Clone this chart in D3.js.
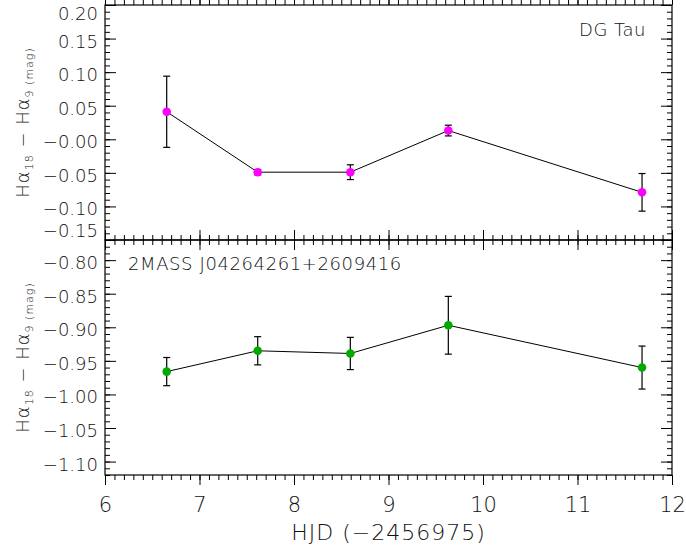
<!DOCTYPE html>
<html>
<head>
<meta charset="utf-8">
<script src="https://cdn.jsdelivr.net/npm/d3@7"></script>
<style>
  html, body { margin: 0; padding: 0; background: #fff; }
  svg { display: block; }
  text { font-family: "DejaVu Sans", "Liberation Sans", sans-serif; fill: #111; font-weight: 200; }
</style>
</head>
<body>
<svg id="chart" width="686" height="550"></svg>
<script>
// ---------- data ----------
const hjd = [6.653, 7.616, 8.596, 9.633, 11.683];
const dgTau = [0.041, -0.049, -0.049, 0.013, -0.079];
const dgTauErr = [0.053, 0.004, 0.011, 0.008, 0.028];
const twoMass = [-0.966, -0.935, -0.939, -0.897, -0.960];
const twoMassErr = [0.021, 0.021, 0.024, 0.043, 0.032];
const xTicks = [6, 7, 8, 9, 10, 11, 12];
const topYTicks = [0.20, 0.15, 0.10, 0.05, 0.00, -0.05, -0.10, -0.15];
const topYLabels = ["0.20", "0.15", "0.10", "0.05", "\u22120.00", "\u22120.05", "\u22120.10", "\u22120.15"];
const botYTicks = [-0.80, -0.85, -0.90, -0.95, -1.00, -1.05, -1.10];
const botYLabels = ["\u22120.80", "\u22120.85", "\u22120.90", "\u22120.95", "\u22121.00", "\u22121.05", "\u22121.10"];
const topName = "DG Tau";
const botName = "2MASS J04264261+2609416";
const xTitle = "HJD (\u22122456975)";

// ---------- layout ----------
const svg = d3.select("#chart");
const L = 105, R = 672;
const panels = [
  { top: 5, bottom: 240, domain: [-0.15, 0.20], vals: dgTau, errs: dgTauErr, color: "#ff00ff",
    ticks: topYTicks, labels: topYLabels, name: topName },
  { top: 240, bottom: 475, domain: [-1.12, -0.77], vals: twoMass, errs: twoMassErr, color: "#00aa00",
    ticks: botYTicks, labels: botYLabels, name: botName }
];

const x = d3.scaleLinear().domain([6, 12]).range([L, R]);
const xMinor = d3.range(6, 12.0001, 0.1).map(v => +v.toFixed(1));

panels.forEach((p, pi) => {
  const y = d3.scaleLinear().domain(p.domain).range([p.bottom, p.top]);
  const yMinor = d3.range(Math.ceil(p.domain[0] * 100 - 1e-6), Math.floor(p.domain[1] * 100 + 1e-6) + 1)
    .map(v => v / 100);
  const g = svg.append("g");

  // minor ticks
  const minorAxes = [
    [d3.axisLeft(y).tickValues(yMinor), `translate(${L},0)`, -5],
    [d3.axisRight(y).tickValues(yMinor), `translate(${R},0)`, -5],
    [d3.axisTop(x).tickValues(xMinor), `translate(0,${p.bottom})`, -5],
    [d3.axisBottom(x).tickValues(xMinor), `translate(0,${p.top})`, -5]
  ];
  minorAxes.forEach(([ax, tr, s]) => {
    const a = g.append("g").attr("transform", tr).call(ax.tickSize(s).tickFormat(""));
    a.select(".domain").remove();
    a.selectAll("line").attr("stroke", "#000");
  });

  // major ticks
  const yAxL = g.append("g").attr("transform", `translate(${L},0)`)
    .call(d3.axisLeft(y).tickValues(p.ticks).tickSize(-11).tickPadding(7)
      .tickFormat((d, i) => p.labels[i]));
  yAxL.select(".domain").remove();
  yAxL.selectAll("line").attr("stroke", "#000");
  yAxL.selectAll("text")
    .style("font-size", "18px").style("font-family", null)
    .attr("fill", "#111")
    .attr("dy", null)
    .attr("dominant-baseline", "central")
    .attr("y", d => {
      const yy = y(d) + 2;
      return Math.min(Math.max(yy, p.top + 8), p.bottom - 10) - y(d);
    });

  const yAxR = g.append("g").attr("transform", `translate(${R},0)`)
    .call(d3.axisRight(y).tickValues(p.ticks).tickSize(-11).tickFormat(""));
  yAxR.select(".domain").remove();
  yAxR.selectAll("line").attr("stroke", "#000");

  const xAxT = g.append("g").attr("transform", `translate(0,${p.top})`)
    .call(d3.axisBottom(x).tickValues(xTicks).tickSize(-10).tickFormat(""));
  xAxT.select(".domain").remove();
  xAxT.selectAll("line").attr("stroke", "#000");

  const xAxB = g.append("g").attr("transform", `translate(0,${p.bottom})`)
    .call(d3.axisTop(x).tickValues(xTicks).tickSize(-10).tickFormat(""));
  xAxB.select(".domain").remove();
  xAxB.selectAll("line").attr("stroke", "#000");

  // frame
  g.append("rect").attr("x", L).attr("y", p.top).attr("width", R - L).attr("height", p.bottom - p.top)
    .attr("fill", "none").attr("stroke", "#000").attr("stroke-width", 1.2);

  // data
  const pts = hjd.map((h, i) => ({ x: h, y: p.vals[i], e: p.errs[i] }));
  g.append("path").datum(pts)
    .attr("d", d3.line().x(d => x(d.x)).y(d => y(d.y)))
    .attr("fill", "none").attr("stroke", "#000").attr("stroke-width", 1);

  const eb = g.append("g").selectAll("g").data(pts).join("g");
  eb.append("line").attr("x1", d => x(d.x)).attr("x2", d => x(d.x))
    .attr("y1", d => y(d.y + d.e)).attr("y2", d => y(d.y - d.e))
    .attr("stroke", "#000").attr("stroke-width", 1.2);
  [1, -1].forEach(s => {
    eb.append("line").attr("x1", d => x(d.x) - 3.5).attr("x2", d => x(d.x) + 3.5)
      .attr("y1", d => y(d.y + s * d.e)).attr("y2", d => y(d.y + s * d.e))
      .attr("stroke", "#000").attr("stroke-width", 1.2);
  });

  g.append("g").selectAll("circle").data(pts).join("circle")
    .attr("cx", d => x(d.x)).attr("cy", d => y(d.y)).attr("r", 4.3)
    .attr("fill", p.color);

  // panel name
  if (pi === 0) {
    g.append("text").attr("x", 646).attr("y", p.top + 31).attr("text-anchor", "end")
      .style("font-size", "18px").attr("letter-spacing", "0.5px").text(p.name);
  } else {
    g.append("text").attr("x", 128).attr("y", p.top + 30).attr("text-anchor", "start")
      .style("font-size", "18px").attr("letter-spacing", "0.6px").text(p.name);
  }

  // y-axis title
  const cy = (p.top + p.bottom) / 2;
  const t = g.append("text")
    .attr("transform", `translate(28.5,${cy}) rotate(-90)`)
    .attr("text-anchor", "middle")
    .attr("letter-spacing", "1px")
    .style("font-size", "18px");
  t.append("tspan").text("H\u03b1");
  t.append("tspan").attr("dy", 4).style("font-size", "11px").text("18");
  t.append("tspan").attr("dy", -4).text("  \u2212  H\u03b1");
  t.append("tspan").attr("dy", 4).style("font-size", "11px").text("9");
  t.append("tspan").attr("dy", 0).style("font-size", "11px").text(" (mag)");
});

// x tick labels (bottom panel)
const xl = svg.append("g").attr("transform", `translate(0,${panels[1].bottom})`)
  .call(d3.axisBottom(x).tickValues(xTicks).tickSize(0).tickPadding(0).tickFormat(d3.format("d")));
xl.select(".domain").remove();
xl.selectAll("text").style("font-size", "21px").style("font-family", null)
  .attr("fill", "#111").attr("dy", null).attr("y", 36.5);

svg.append("text").attr("x", (L + R) / 2).attr("y", 540).attr("text-anchor", "middle")
  .style("font-size", "22px").attr("letter-spacing", "1px").text(xTitle);
</script>
</body>
</html>
